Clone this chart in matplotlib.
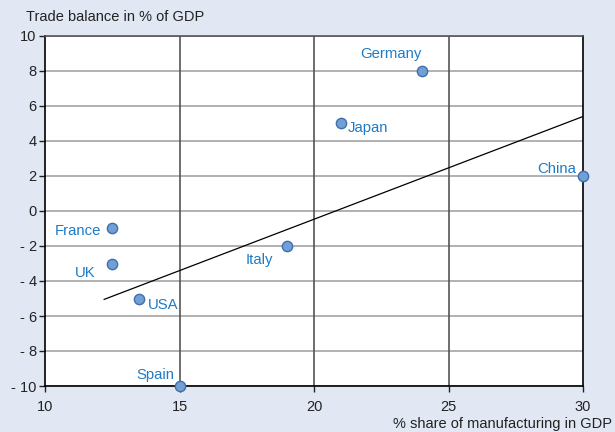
import matplotlib.pyplot as plt

plt.rcParams['font.family'] = ['Liberation Sans', 'DejaVu Sans']

countries = ['France', 'UK', 'USA', 'Spain', 'Italy', 'Japan', 'Germany', 'China']
manufacturing = [12.5, 12.5, 13.5, 15, 19, 21, 24, 30]
trade_balance = [-1, -3, -5, -10, -2, 5, 8, 2]

# trend line
trend_x = [12.2, 30]
trend_y = [-5.05, 5.4]

yticks = [10, 8, 6, 4, 2, 0, -2, -4, -6, -8, -10]
ytick_labels = ['10', '8', '6', '4', '2', '0', '- 2', '- 4', '- 6', '- 8', '- 10']
xticks = [10, 15, 20, 25, 30]

# label offsets in points (dx, dy, ha)
label_pos = {
    'France': (-8, -2, 'right'),
    'UK': (-12, -7, 'right'),
    'USA': (6, -4.5, 'left'),
    'Spain': (-4, 8, 'right'),
    'Italy': (-20, -10, 'center'),
    'Japan': (5, -3, 'left'),
    'Germany': (-22, 12, 'center'),
    'China': (-5, 5, 'right'),
}

bg = '#e1e8f4'
fig = plt.figure(figsize=(6.15, 4.32), dpi=100, facecolor=bg)
ax = fig.add_axes([45 / 615, 46 / 432, 538 / 615, 350 / 432])
ax.set_facecolor('white')

ax.set_xlim(10, 30)
ax.set_ylim(-10, 10)
ax.set_yticks(yticks)
ax.set_yticklabels(ytick_labels)
ax.set_xticks(xticks)

for y in yticks:
    ax.axhline(y, color='#ababab', lw=1.3, zorder=1)
for x in [15, 20, 25]:
    ax.axvline(x, color='#555555', lw=1.2, zorder=1)

for side in ['left', 'bottom', 'right']:
    ax.spines[side].set_color('black')
    ax.spines[side].set_linewidth(1.2)
ax.spines['top'].set_color('#555555')
ax.spines['top'].set_linewidth(1.2)

ax.tick_params(axis='both', direction='out', length=4, width=1, labelsize=10.5, colors='#222222')
ax.tick_params(axis='x', pad=6)
ax.tick_params(axis='y', pad=2)

ax.plot(trend_x, trend_y, color='black', lw=0.9, zorder=2)

ax.scatter(manufacturing, trade_balance, s=55, color='#729fd4', edgecolors='#3d6fae',
           linewidths=1, zorder=5, clip_on=False)

for name, x, y in zip(countries, manufacturing, trade_balance):
    dx, dy, ha = label_pos[name]
    ax.annotate(name, (x, y), xytext=(dx, dy), textcoords='offset points',
                ha=ha, va='center', color='#1e7bc6', fontsize=10.7, zorder=6)

fig.text(26 / 615, 1 - 17 / 432, 'Trade balance in % of GDP', ha='left', va='center',
         fontsize=10.5, color='#222222')
fig.text(393 / 615, 1 - 424 / 432, '% share of manufacturing in GDP', ha='left', va='center',
         fontsize=10.5, color='#222222')

fig.savefig('out.png', dpi=100, facecolor=bg)
